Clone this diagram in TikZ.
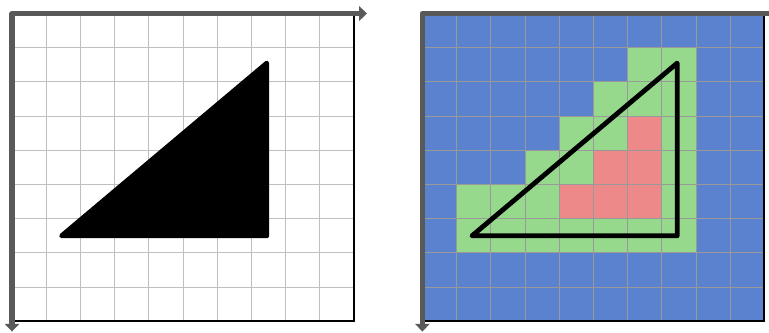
\documentclass[tikz,border=0pt]{standalone}
\usetikzlibrary{arrows.meta}
\definecolor{cellblue}{RGB}{90,130,207}
\definecolor{cellgreen}{RGB}{150,217,141}
\definecolor{cellred}{RGB}{238,137,137}
\definecolor{axisgray}{RGB}{89,89,89}

\begin{document}
\begin{tikzpicture}[
    gridlight/.style={draw=black!25, line width=0.8pt},
    griddark/.style={draw=black!40, line width=0.8pt},
    frame/.style={draw=black, line width=1.7pt},
    axis/.style={draw=axisgray, line width=4.2pt, line join=round,
        {Triangle[length=6.5pt,width=12pt]}-{Triangle[length=6.5pt,width=12pt]}},
    tri/.style={line width=4pt, line join=round}
]
    \useasboundingbox (-0.351,0.395) rectangle (22.135,-9.342);

    % left panel: the shape on a grid
    \draw[gridlight] (0,0) grid (10,-9);
    \draw[frame] (10,0) -- (10,-9) -- (0,-9);
    \coordinate (a1) at (1.45,-6.5);
    \coordinate (b1) at (7.45,-1.45);
    \coordinate (c1) at (7.45,-6.5);
    \filldraw[tri] (a1) -- (b1) -- (c1) -- cycle;
    \draw[axis] (10.38,0) -- (0,0) -- (0,-9.3);

    % right panel: cells covered by the shape
    \fill[cellblue] (12,0) rectangle (22,-9);
    \foreach \c/\r in {6/1,7/1, 5/2,6/2,7/2, 4/3,5/3,7/3, 3/4,4/4,7/4,
                       1/5,2/5,3/5,7/5, 1/6,2/6,3/6,4/6,5/6,6/6,7/6}
        \fill[cellgreen] (12+\c,-\r) rectangle ++(1,-1);
    \foreach \c/\r in {6/3, 5/4,6/4, 4/5,5/5,6/5}
        \fill[cellred] (12+\c,-\r) rectangle ++(1,-1);
    \draw[griddark] (12,0) grid (22,-9);
    \draw[frame] (22,0) -- (22,-9) -- (12,-9);
    \coordinate (a2) at (13.45,-6.5);
    \coordinate (b2) at (19.45,-1.45);
    \coordinate (c2) at (19.45,-6.5);
    \draw[tri] (a2) -- (b2) -- (c2) -- cycle;
    \draw[axis] (22.45,0) -- (12,0) -- (12,-9.3);
\end{tikzpicture}
\end{document}
